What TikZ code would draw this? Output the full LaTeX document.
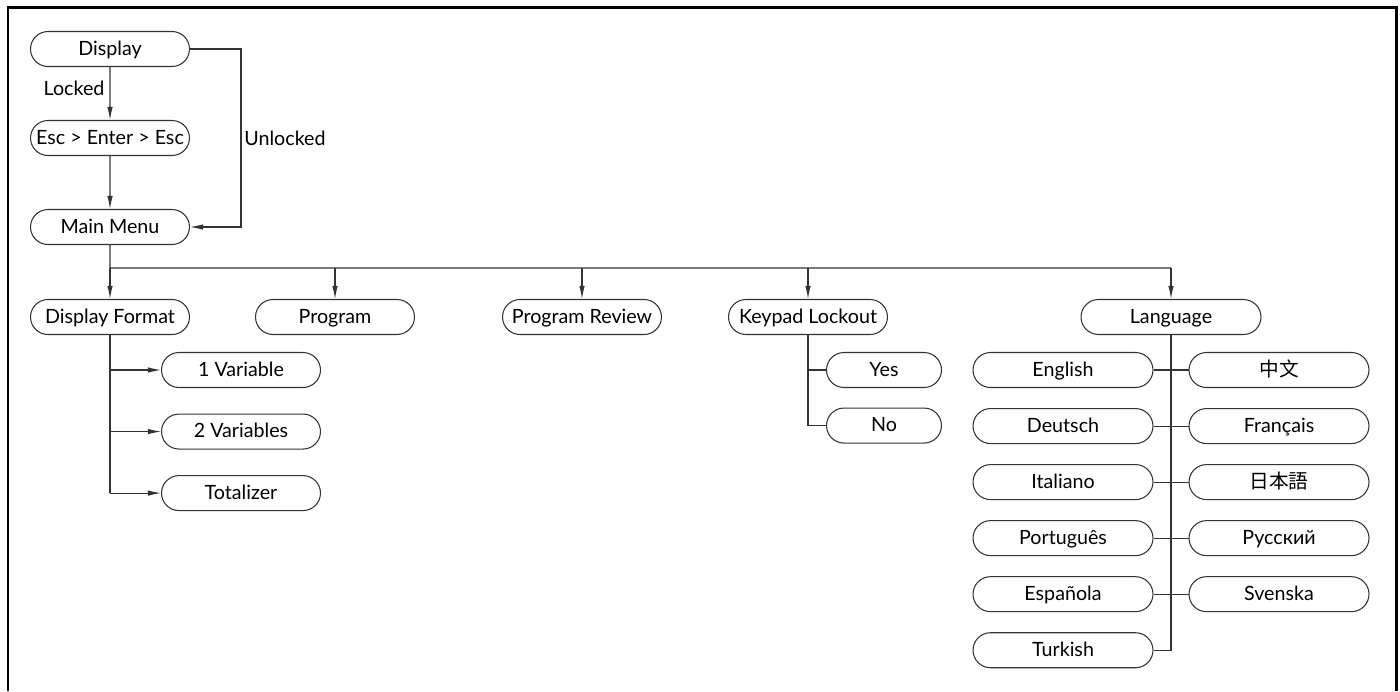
\documentclass[tikz,border=0pt]{standalone}
\usepackage{fontspec}
\setmainfont{Lato}
\newfontfamily\zhfont{Noto Sans CJK SC}
\newfontfamily\jpfont{Noto Sans CJK JP}
\usetikzlibrary{positioning, shapes.misc, arrows.meta}
\definecolor{mnLine}{HTML}{333333}
\definecolor{mnFrame}{HTML}{000000}
\tikzset{
    mnBoxBase/.style={
        rounded rectangle,
        draw=mnLine,
        line width=0.6pt,
        minimum height=0.7cm,
        minimum width=3.18cm,
        inner sep=0pt,
        text height=0.8em,
        text depth=0.08em,
        font=\fontsize{11.2}{13}\selectfont
    },
    % Variants
    menu/.style={mnBoxBase},
    langbox/.style={mnBoxBase, minimum width=3.6cm},
    choice/.style={mnBoxBase, minimum width=2.3cm},
    % Connectors
    mnLink/.style={draw=mnLine, line width=0.6pt},
    mnArrow/.style={mnLink, -{Latex[length=0.26cm, width=0.11cm]}},
    mnLabel/.style={font=\fontsize{11.2}{13}\selectfont, inner sep=0pt}
}

\begin{document}
\begin{tikzpicture}[x=0.02cm, y=-0.02cm]
    \useasboundingbox (0,0) rectangle (1400,691);
    \draw[mnFrame, line width=1.7pt] (8,691) -- (8,7) -- (1396,7) -- (1396,691);

    % Access to the main menu
    \node[menu] (display) at (110,49) {Display};
    \node[menu] (esc) at (110,138) {Esc > Enter > Esc};
    \node[menu] (main) at (110,227) {Main Menu};
    \node[mnLabel] (locked) at (74,88) {Locked};
    \node[mnLabel] (unlocked) at (285,138) {Unlocked};
    \coordinate (turn) at (241,49);

    \draw[mnArrow] (display) -- (esc);
    \draw[mnArrow] (esc) -- (main);
    \draw[mnArrow] (display.east) -- (turn) -- (turn |- main.east) -- (main.east);

    % Main menu entries
    \node[menu] (format) at (110,317) {Display Format};
    \node[menu] (program) at (335,317) {Program};
    \node[menu] (review) at (582,317) {Program Review};
    \node[menu] (keypad) at (808,317) {Keypad Lockout};
    \node[langbox] (language) at (1171,317) {Language};
    \coordinate (bus) at (110,268);

    \draw[mnLink] (main) -- (bus) -- (bus -| language.north);
    \foreach \n in {format, program, review, keypad, language}
        \draw[mnArrow] (bus -| \n.north) -- (\n.north);

    % Display Format
    \node[menu] (one) at (241,370) {1 Variable};
    \node[menu, below=0.51cm of one] (two) {2 Variables};
    \node[menu, below=0.51cm of two] (totalizer) {Totalizer};

    \draw[mnLink] (format.south) -- (format.south |- totalizer.west);
    \foreach \n in {one, two, totalizer}
        \draw[mnArrow] (format.south |- \n.west) -- (\n.west);

    % Keypad Lockout
    \node[choice] (yes) at (884,370) {Yes};
    \node[choice, below=0.39cm of yes] (no) {No};

    \draw[mnLink] (keypad.south) -- (keypad.south |- no.west) -- (no.west);
    \draw[mnLink] (keypad.south |- yes.west) -- (yes.west);

    % Language
    \node[langbox] (english) at (1063,370) {English};
    \node[langbox, below=0.4cm of english] (deutsch) {Deutsch};
    \node[langbox, below=0.4cm of deutsch] (italiano) {Italiano};
    \node[langbox, below=0.4cm of italiano] (portugues) {Português};
    \node[langbox, below=0.4cm of portugues] (espanola) {Española};
    \node[langbox, below=0.4cm of espanola] (turkish) {Turkish};
    \node[langbox] (chinese) at (1279,370) {\zhfont 中文};
    \node[langbox, below=0.4cm of chinese] (francais) {Français};
    \node[langbox, below=0.4cm of francais] (japanese) {\jpfont 日本語};
    \node[langbox, below=0.4cm of japanese] (russian) {Русский};
    \node[langbox, below=0.4cm of russian] (svenska) {Svenska};

    \draw[mnLink] (language.south) -- (language.south |- turkish.east) -- (turkish.east);
    \draw[mnLink] (english.east) -- (chinese.west);
    \draw[mnLink] (deutsch.east) -- (francais.west);
    \draw[mnLink] (italiano.east) -- (japanese.west);
    \draw[mnLink] (portugues.east) -- (russian.west);
    \draw[mnLink] (espanola.east) -- (svenska.west);
\end{tikzpicture}
\end{document}
